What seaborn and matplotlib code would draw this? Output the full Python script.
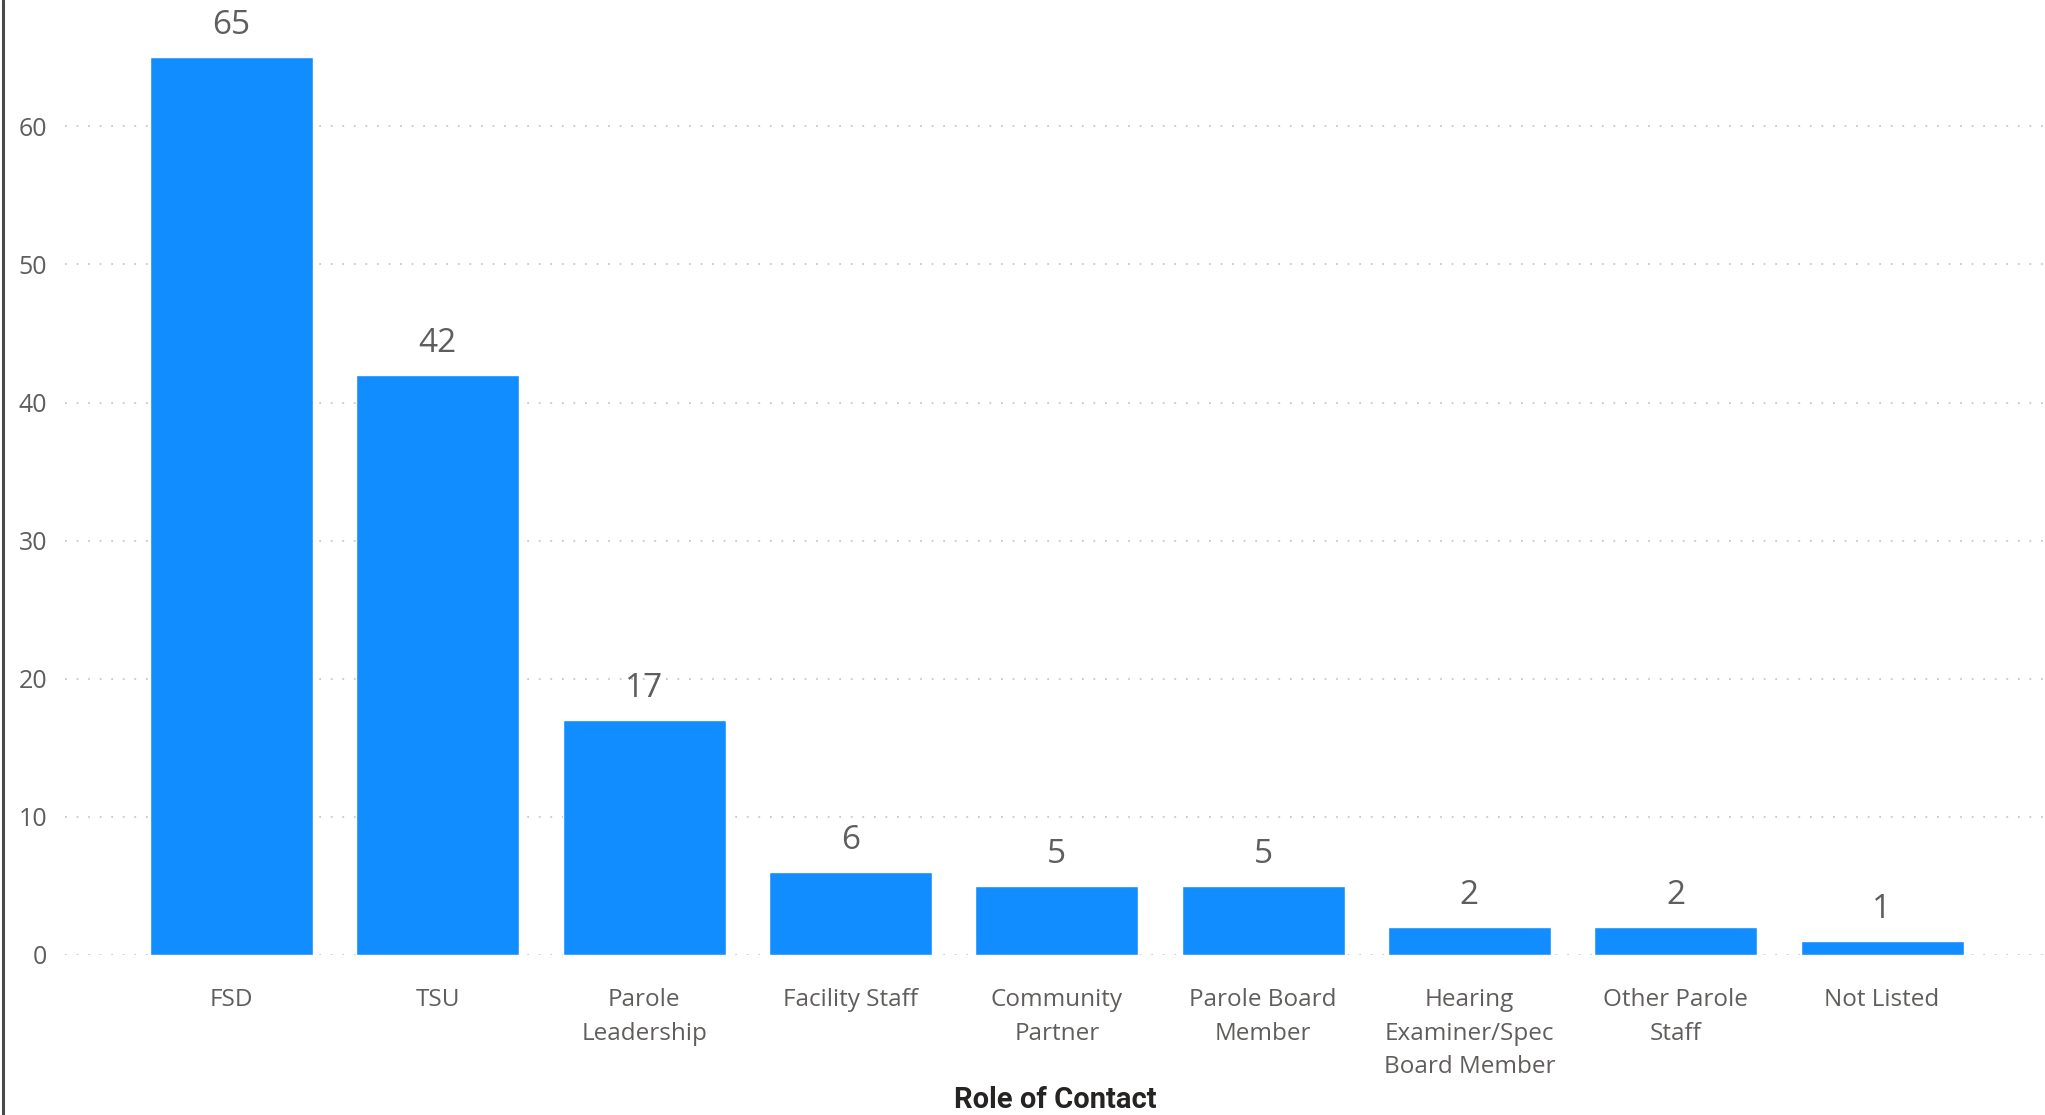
import matplotlib
matplotlib.use("Agg")
import matplotlib.pyplot as plt
import seaborn as sns
import pandas as pd
from matplotlib.lines import Line2D

categories = ["FSD", "TSU", "Parole\nLeadership", "Facility Staff", "Community\nPartner",
              "Parole Board\nMember", "Hearing\nExaminer/Spec\nBoard Member",
              "Other Parole\nStaff", "Not Listed"]
counts = [65, 42, 17, 6, 5, 5, 2, 2, 1]
y_ticks = [0, 10, 20, 30, 40, 50, 60]
x_title = "Role of Contact"

df = pd.DataFrame({"role": categories, "count": counts})

sns.set_theme(style="white")
plt.rcParams['font.family'] = ['Open Sans', 'DejaVu Sans']

fig = plt.figure(figsize=(20.45, 11.15), dpi=100)
ax = fig.add_axes([65 / 2045, (1115 - 955) / 1115, 1 - 65 / 2045, 955 / 1115])

sns.barplot(data=df, x="role", y="count", color="#118DFF", saturation=1,
            width=0.79, ax=ax, zorder=3)

ax.set_xlim(-0.807, 8.79)
ax.set_ylim(0, 69.15)
ax.set_yticks(y_ticks)
ax.set_yticklabels([str(v) for v in y_ticks])
for s in ax.spines.values():
    s.set_visible(False)
ax.yaxis.grid(True, color="#C8C8C8", linestyle=(0, (1, 5.4)), linewidth=1.3, zorder=0)
ax.xaxis.grid(False)
ax.set_axisbelow(True)
ax.tick_params(axis="y", length=0, pad=13, labelsize=18, labelcolor="#605E5C")
ax.tick_params(axis="x", length=0, pad=23.5, labelsize=17.5, labelcolor="#605E5C")
for lab in ax.get_xticklabels():
    lab.set_linespacing(1.55)
ax.set_ylabel("")
ax.set_xlabel(x_title, fontsize=21, fontweight="bold", color="#252423",
              family=["Roboto", "DejaVu Sans"], labelpad=5)

for p, v in zip(ax.patches, counts):
    ax.annotate(str(v), (p.get_x() + p.get_width() / 2, p.get_height()),
                xytext=(0, 23), textcoords="offset points",
                ha="center", va="center", fontsize=24, color="#605E5C")

fig.add_artist(Line2D([2.5 / 2045, 2.5 / 2045], [0, 1], transform=fig.transFigure,
                      color="#4A4A4A", linewidth=2.2))

fig.savefig("out.png", dpi=100)
